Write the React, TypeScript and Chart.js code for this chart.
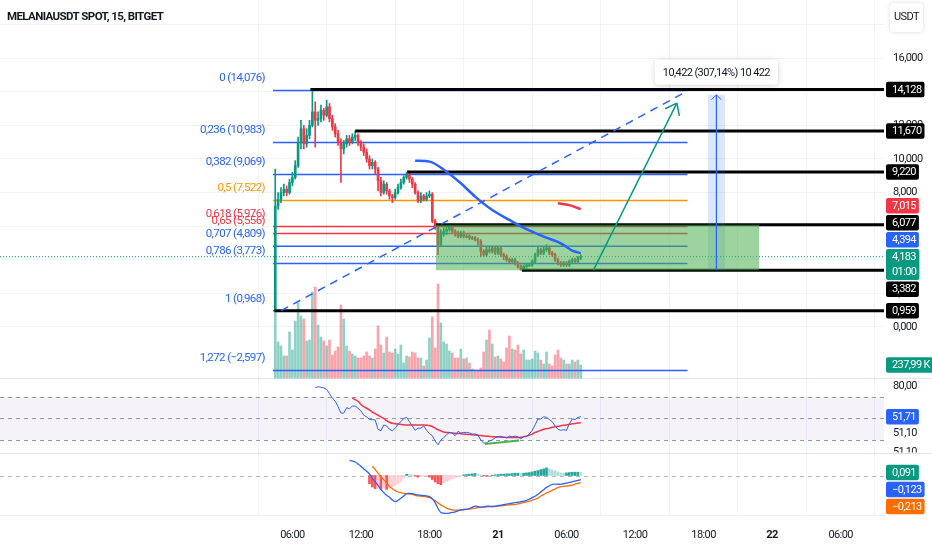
import React, { useEffect, useRef } from "react";
import { Chart, registerables } from "chart.js";

Chart.register(...registerables);

const FONT = "Roboto, sans-serif";
const LETTER_SPACING = "-0.6px";

// ---------------- data ----------------
const chartTitle = "MELANIAUSDT SPOT, 15, BITGET";
const currencyLabel = "USDT";
const countdownText = "01:00";

// 15-minute candles, hours counted from 20 Jan 00:00
const candleStartHour = 4.5;
const candleStepHour = 0.25;
const firstOpen = 0.968;
const closes = [
  7.2, 7.6, 8.0, 8.2, 8.0, 8.6, 8.9, 9.6, 11.0, 11.8,
  10.9, 11.4, 12.0, 12.8, 12.3, 12.4, 12.9, 12.6, 13.1, 12.4,
  11.9, 11.5, 11.0, 10.6, 10.9, 11.2, 11.0, 11.3, 11.4, 11.0,
  10.7, 10.4, 10.0, 9.6, 9.8, 9.4, 8.7, 8.0, 8.5, 8.1,
  7.8, 7.7, 8.0, 8.3, 8.6, 8.9, 9.1, 8.8, 8.5, 8.0,
  7.5, 7.8, 7.6, 7.8, 7.9, 6.3, 6.0, 4.9, 5.6, 5.7,
  5.8, 6.0, 5.7, 5.6, 5.4, 5.6, 5.4, 5.4, 5.3, 5.3,
  5.2, 5.1, 4.5, 4.3, 4.6, 4.5, 4.7, 4.4, 4.7, 4.3,
  4.2, 4.0, 3.9, 4.0, 3.8, 3.6, 3.4, 3.6, 3.7, 3.7,
  3.9, 4.3, 4.6, 4.4, 4.6, 4.7, 4.4, 4.3, 4.0, 3.8,
  3.7, 3.8, 3.7, 3.9, 4.0, 3.9, 4.1, 4.183,
];
const highs = [
  9.4, 8.0, 8.3, 8.5, 8.4, 8.8, 9.2, 9.9, 11.3, 12.3,
  12.0, 11.8, 12.3, 14.128, 13.4, 12.8, 13.2, 13.0, 13.5, 13.3,
  12.6, 12.1, 11.7, 11.2, 11.1, 11.4, 11.4, 11.5, 11.67, 11.5,
  11.1, 10.9, 10.6, 10.2, 10.0, 9.9, 9.5, 8.9, 8.7, 8.6,
  8.2, 7.9, 8.2, 8.5, 8.8, 9.0, 9.22, 9.2, 8.9, 8.6,
  8.1, 8.0, 7.9, 8.0, 8.1, 8.0, 6.4, 6.1, 5.8, 5.9,
  6.0, 6.077, 6.05, 5.8, 5.7, 5.7, 5.7, 5.5, 5.5, 5.4,
  5.4, 5.3, 5.2, 4.6, 4.8, 4.8, 4.8, 4.8, 4.8, 4.8,
  4.4, 4.3, 4.1, 4.1, 4.1, 3.9, 3.7, 3.7, 3.8, 3.8,
  4.0, 4.4, 4.8, 4.7, 4.8, 4.9, 4.8, 4.5, 4.4, 4.1,
  3.9, 3.9, 3.9, 4.0, 4.1, 4.1, 4.2, 4.3,
];
const lows = [
  0.95, 7.0, 7.4, 7.8, 7.8, 7.9, 8.4, 8.8, 9.5, 10.6,
  10.6, 10.7, 11.2, 11.9, 10.7, 12.0, 12.2, 12.3, 12.5, 12.2,
  11.7, 11.3, 10.8, 8.6, 10.3, 10.7, 10.8, 10.9, 11.1, 10.8,
  10.5, 10.2, 9.8, 9.4, 9.4, 9.1, 8.1, 7.8, 7.9, 7.9,
  7.6, 7.4, 7.6, 7.9, 8.2, 8.5, 8.8, 8.6, 8.3, 7.9,
  7.4, 7.4, 7.5, 7.5, 7.7, 6.2, 5.8, 4.3, 4.8, 5.4,
  5.5, 5.7, 5.6, 5.4, 5.3, 5.3, 5.3, 5.3, 5.2, 5.2,
  5.1, 4.9, 4.2, 4.2, 4.2, 4.4, 4.4, 4.3, 4.3, 4.2,
  4.0, 3.9, 3.8, 3.8, 3.7, 3.5, 3.382, 3.4, 3.5, 3.6,
  3.6, 3.8, 4.2, 4.3, 4.3, 4.5, 4.3, 4.2, 3.9, 3.7,
  3.6, 3.6, 3.6, 3.6, 3.8, 3.8, 3.8, 4.0,
];
const volumesK = [
  1208, 659, 586, 403, 403, 842, 512, 1043, 1373, 1135,
  1080, 677, 695, 1574, 1665, 970, 750, 677, 586, 695,
  421, 494, 567, 1336, 1080, 586, 494, 439, 403, 366,
  366, 403, 476, 403, 366, 531, 952, 604, 458, 750,
  476, 458, 531, 439, 604, 275, 403, 384, 476, 458,
  366, 366, 220, 329, 732, 1116, 549, 1720, 1007, 659,
  622, 494, 458, 366, 366, 531, 348, 366, 275, 165,
  146, 146, 183, 476, 695, 878, 622, 384, 403, 348,
  293, 549, 769, 531, 512, 604, 439, 512, 329, 329,
  348, 494, 458, 329, 256, 476, 256, 220, 421, 512,
  366, 329, 256, 256, 329, 293, 329, 237.99,
];
const N = null;
const rsiValues = [
  N, N, N, N, N, N, N, N, N, N, N, N, N, N,
  78.5, 79.5, 79, 78.5, 77, 73, 69, 66, 61, 55,
  55, 60, 59, 61.5, 61.5, 59.5, 57, 53, 51.5, 49,
  49, 48.5, 40, 38.5, 44, 43, 40, 38.5, 41, 44.5,
  47, 50, 51, 47, 43, 39, 41, 41, 43, 39,
  36, 34, 29, 25.5, 30, 32, 35, 37, 36.5, 34,
  38, 36.5, 37, 37, 36.5, 35.5, 35.5, 34.5, 30, 27,
  27.5, 29, 30, 32, 33, 33.5, 32.5, 32, 33.5, 33,
  33.5, 33, 31, 33, 33.5, 35.5, 39, 44, 49.5, 49.5,
  51.5, 51, 49, 47, 43, 40, 39, 39.5, 39, 45,
  49.5, 49, 51, 51.71,
];
const rsiMaValues = [
  N, N, N, N, N, N, N, N, N, N, N, N, N, N, N, N, N, N, N, N, N, N, N, N, N, N, N,
  69, 67.5, 66, 63, 61, 59.5, 58,
  56, 54.5, 53, 51.5, 50, 48, 46.5, 45.5, 45, 44.8,
  44.5, 44.2, 44, 44, 44, 44, 44, 44, 44, 43.8,
  43.5, 42.5, 41, 39.5, 38.5, 37.5, 37, 36.8, 36.5, 36.2,
  36, 35.8, 35.5, 35.3, 35, 34.8, 34.6, 34.4, 34.1, 33.8,
  33.5, 33.3, 33.1, 33, 32.8, 32.6, 32.5, 32.4, 32.3, 32.2,
  32.2, 32.2, 32.5, 33, 33.5, 34.5, 35.5, 37, 38, 39,
  40, 40.5, 41, 41.8, 42.3, 42.8, 43.2, 43.6, 44, 44.5,
  45, 45.3, 45.7, 46,
];
const macdValues = [
  N, N, N, N, N, N, N, N, N, N, N, N, N, N, N, N, N, N, N, N, N, N, N, N, N, N,
  0.46, 0.44, 0.41, 0.35, 0.28, 0.2, 0.13, 0.05,
  -0.09, -0.19, -0.3, -0.42, -0.52, -0.6, -0.66, -0.74, -0.79, -0.75,
  -0.69, -0.62, -0.55, -0.54, -0.55, -0.57, -0.59, -0.6, -0.61, -0.62,
  -0.64, -0.7, -0.82, -1.0, -1.12, -1.14, -1.15, -1.14, -1.12, -1.1,
  -1.07, -1.04, -1.03, -1.02, -1.0, -0.96, -0.93, -0.94, -0.96, -0.95,
  -0.93, -0.93, -0.94, -0.93, -0.91, -0.9, -0.88, -0.87, -0.85, -0.84,
  -0.82, -0.81, -0.8, -0.78, -0.75, -0.72, -0.67, -0.63, -0.57, -0.5,
  -0.43, -0.36, -0.31, -0.27, -0.26, -0.26, -0.27, -0.25, -0.23, -0.21,
  -0.19, -0.17, -0.15, -0.123,
];
const signalValues = [
  N, N, N, N, N, N, N, N, N, N, N, N, N, N, N, N, N, N, N, N, N, N, N, N, N, N, N, N, N, N, N, N, N, N,
  0.28, 0.18, 0.07, -0.03, -0.13, -0.23, -0.33, -0.4, -0.46, -0.5,
  -0.52, -0.54, -0.55, -0.56, -0.57, -0.6, -0.62, -0.63, -0.64, -0.65,
  -0.67, -0.72, -0.76, -0.83, -0.89, -0.94, -0.99, -1.02, -1.04, -1.05,
  -1.05, -1.05, -1.04, -1.03, -1.02, -1.0, -0.99, -0.97, -0.96, -0.96,
  -0.95, -0.95, -0.94, -0.94, -0.93, -0.92, -0.91, -0.9, -0.89, -0.88,
  -0.88, -0.86, -0.84, -0.82, -0.8, -0.78, -0.75, -0.72, -0.68, -0.62,
  -0.58, -0.53, -0.49, -0.45, -0.41, -0.37, -0.34, -0.33, -0.32, -0.31,
  -0.29, -0.26, -0.24, -0.213,
];
const histValues = [
  N, N, N, N, N, N, N, N, N, N, N, N, N, N, N, N, N, N, N, N, N, N, N, N, N, N, N, N, N, N, N, N, N,
  -0.25,
  -0.35, -0.4, -0.38, -0.42, -0.38, -0.42, -0.38, -0.34, -0.3, -0.25,
  -0.18, -0.08, 0.04, 0.03, 0.02, -0.02, -0.05, -0.03, -0.02, -0.02,
  -0.05, -0.12, -0.2, -0.25, -0.28, -0.22, -0.18, -0.14, -0.1, -0.07,
  -0.04, -0.02, 0.02, 0.03, 0.04, 0.05, 0.06, 0.05, 0.02, -0.01,
  -0.03, -0.01, 0.01, 0.02, 0.03, 0.04, 0.04, 0.05, 0.05, 0.06,
  0.07, 0.07, 0.06, 0.07, 0.08, 0.09, 0.11, 0.13, 0.15, 0.18,
  0.2, 0.23, 0.2, 0.17, 0.14, 0.11, 0.08, 0.07, 0.08, 0.09,
  0.1, 0.1, 0.1, 0.091,
];

// time axis
const timeTicks = [6, 12, 18, 24, 30, 36, 42, 48, 54];
const timeTickLabels = ["06:00", "12:00", "18:00", "21", "06:00", "12:00", "18:00", "22", "06:00"];
const boldTimeLabels = ["21", "22"];

// fibonacci retracement
const fibLevels = [0, 0.236, 0.382, 0.5, 0.618, 0.65, 0.707, 0.786, 1, 1.272];
const fibPrices = [14.076, 10.983, 9.069, 7.522, 5.976, 5.556, 4.809, 3.773, 0.968, -2.597];
const fibColors = ["#2962ff", "#2962ff", "#2962ff", "#ff9800", "#f23645", "#f23645", "#2962ff", "#2962ff", "#2962ff", "#2962ff"];
const fibHours = [4.3, 40.6];

// horizontal rays (black)
const rayPrices = [14.128, 11.67, 9.22, 6.077, 3.382, 0.959];
const rayStartHours = [7.58, 11.5, 16.05, 18.57, 26.1, 4.43];

// green zone
const zoneHours = [18.57, 46.86];
const zonePrices = [3.382, 6.077];

// moving averages on price (candle index, value)
const blueMaIndex = [49, 54, 60, 65, 70, 76, 82, 88, 94, 100, 104, 107];
const blueMaValues = [9.9, 9.84, 9.24, 8.55, 7.76, 6.96, 6.37, 5.82, 5.38, 4.98, 4.55, 4.394];
const redMaIndex = [99, 103, 107];
const redMaValues = [7.36, 7.25, 7.015];

// drawings
const trendHours = [5.0, 40.2];
const trendPrices = [0.968, 13.9];
const arrowHours = [32.36, 39.66];
const arrowPrices = [3.382, 13.32];
const measureHours = [42.37, 43.88];
const measurePrices = [3.393, 13.815];
const measureText = "10,422 (307,14%) 10 422";
const divergenceIndex = [73.4, 85.4];
const divergenceValues = [26.3, 29.4];

// RSI pane
const rsiLevels = [70, 50, 30];
const rsiAxisValues = [80, 36, 19];
const rsiAxisTexts = ["80,00", "51,10", "51,10"];

// axis ranges (values at the top / bottom edge of the drawing area)
const xRange = [-19.6, 57.8];
const priceRange = [-11.19, 19.46];
const priceTickValues = [0, 2, 4, 6, 8, 10, 12, 14, 16, 18];
const volRange = [-2507, 6917];
const rsiRange = [-39.8, 439.3];
const macdRange = [-1.197, 14.41];
const paneSeparators = [378.5, 453.5];

// ---------------- helpers ----------------
const UP = "#089981";
const DOWN = "#f23645";
const BLUE = "#2962ff";

const hourOf = (i: number) => candleStartHour + i * candleStepHour;
const fmt = (v: number, d: number) => v.toFixed(d).replace(".", ",").replace("-", "\u2212");
const timeLabelAt = (v: number) => {
  const k = timeTicks.indexOf(v);
  return k >= 0 ? timeTickLabels[k] : "";
};

type Box = { y: number; lines: string[]; bg: string; fixed?: boolean };
const LINE_H = 15.5;
const GAP = 1.5;

function layoutBoxes(items: Box[]) {
  const tops = new Map<Box, number>();
  const h = (b: Box) => b.lines.length * LINE_H;
  const fixed = items.find((b) => b.fixed) || items[0];
  const fixedTop = fixed.y - LINE_H / 2;
  tops.set(fixed, fixedTop);
  let limit = fixedTop - GAP;
  items
    .filter((b) => b !== fixed && b.y <= fixed.y)
    .sort((a, b) => b.y - a.y)
    .forEach((b) => {
      const top = Math.min(b.y - LINE_H / 2, limit - h(b));
      tops.set(b, top);
      limit = top - GAP;
    });
  limit = fixedTop + h(fixed) + GAP;
  items
    .filter((b) => b !== fixed && b.y > fixed.y)
    .sort((a, b) => a.y - b.y)
    .forEach((b) => {
      const top = Math.max(b.y - LINE_H / 2, limit);
      tops.set(b, top);
      limit = top + h(b) + GAP;
    });
  return tops;
}

function drawBoxes(ctx: CanvasRenderingContext2D, items: Box[], x: number) {
  const tops = layoutBoxes(items);
  ctx.font = `11px ${FONT}`;
  ctx.textBaseline = "middle";
  ctx.textAlign = "left";
  items.forEach((b) => {
    const top = tops.get(b)!;
    const w = Math.max(...b.lines.map((t) => ctx.measureText(t).width)) + 9;
    ctx.fillStyle = b.bg;
    ctx.beginPath();
    ctx.roundRect(x, top, w, b.lines.length * LINE_H, 2);
    ctx.fill();
    ctx.fillStyle = "#ffffff";
    b.lines.forEach((t, k) => ctx.fillText(t, x + 6, top + LINE_H * (k + 0.5) + 0.5));
  });
}

function arrowHead(ctx: CanvasRenderingContext2D, x0: number, y0: number, x1: number, y1: number, len: number, deg: number) {
  const ang = Math.atan2(y1 - y0, x1 - x0);
  ctx.beginPath();
  [-1, 1].forEach((s) => {
    const a = ang + Math.PI + (s * deg * Math.PI) / 180;
    ctx.moveTo(x1, y1);
    ctx.lineTo(x1 + len * Math.cos(a), y1 + len * Math.sin(a));
  });
  ctx.stroke();
}

const overlayPlugin = {
  id: "tvOverlay",
  beforeDraw(chart: any) {
    (chart.ctx as any).letterSpacing = LETTER_SPACING;
  },
  beforeDatasetsDraw(chart: any) {
    const { ctx, chartArea: a, scales } = chart;
    const r = scales.yRsi;
    const m = scales.yMacd;
    ctx.save();
    const yTop = r.getPixelForValue(rsiLevels[0]);
    const yBot = r.getPixelForValue(rsiLevels[rsiLevels.length - 1]);
    ctx.fillStyle = "rgba(126,87,194,0.08)";
    ctx.fillRect(a.left, yTop, a.right - a.left, yBot - yTop);
    ctx.setLineDash([4, 4]);
    ctx.strokeStyle = "#9598a1";
    ctx.lineWidth = 1;
    rsiLevels.forEach((v) => {
      const y = Math.round(r.getPixelForValue(v)) + 0.5;
      ctx.beginPath();
      ctx.moveTo(a.left, y);
      ctx.lineTo(a.right, y);
      ctx.stroke();
    });
    const y0 = Math.round(m.getPixelForValue(0)) + 0.5;
    ctx.strokeStyle = "#b2b5be";
    ctx.beginPath();
    ctx.moveTo(a.left, y0);
    ctx.lineTo(a.right, y0);
    ctx.stroke();
    ctx.setLineDash([]);
    ctx.strokeStyle = "#e0e3eb";
    paneSeparators.forEach((y) => {
      ctx.beginPath();
      ctx.moveTo(0, y);
      ctx.lineTo(chart.width, y);
      ctx.stroke();
    });
    ctx.restore();
  },
  afterDatasetsDraw(chart: any) {
    const { ctx, scales } = chart;
    const x = scales.x;
    const y = scales.y;
    ctx.save();
    // green arrow head
    ctx.strokeStyle = UP;
    ctx.lineWidth = 1.5;
    arrowHead(
      ctx,
      x.getPixelForValue(arrowHours[0]), y.getPixelForValue(arrowPrices[0]),
      x.getPixelForValue(arrowHours[1]), y.getPixelForValue(arrowPrices[1]),
      13, 38
    );
    // measure arrow head
    const mx = x.getPixelForValue((measureHours[0] + measureHours[1]) / 2);
    const mTop = y.getPixelForValue(measurePrices[1]);
    ctx.strokeStyle = BLUE;
    ctx.lineWidth = 1;
    arrowHead(ctx, mx, y.getPixelForValue(measurePrices[0]), mx, mTop, 7, 45);
    // measure label
    ctx.font = `11px ${FONT}`;
    const tw = ctx.measureText(measureText).width;
    const bw = tw + 16;
    const bh = 25;
    const by = mTop - 35;
    ctx.save();
    ctx.shadowColor = "rgba(0,0,0,0.18)";
    ctx.shadowBlur = 6;
    ctx.shadowOffsetY = 1;
    ctx.fillStyle = "#ffffff";
    ctx.beginPath();
    ctx.roundRect(mx - bw / 2, by, bw, bh, 4);
    ctx.fill();
    ctx.restore();
    ctx.fillStyle = "#131722";
    ctx.textAlign = "center";
    ctx.textBaseline = "middle";
    ctx.fillText(measureText, mx, by + bh / 2 + 0.5);
    // fib labels
    ctx.font = `11.5px ${FONT}`;
    ctx.textAlign = "right";
    const lx = x.getPixelForValue(fibHours[0]) - 8;
    fibLevels.forEach((lvl, k) => {
      ctx.fillStyle = fibColors[k];
      const decimals = Number.isInteger(lvl) ? 0 : String(lvl).split(".")[1].length;
      ctx.fillText(`${fmt(lvl, decimals)} (${fmt(fibPrices[k], 3)})`, lx, y.getPixelForValue(fibPrices[k]) - 12);
    });
    ctx.restore();
  },
  afterDraw(chart: any) {
    const { ctx, scales, chartArea: a } = chart;
    const bx = a.right + 2;
    ctx.save();
    const last = closes.length - 1;
    drawBoxes(ctx, [
      ...rayPrices.map((p) => ({ y: scales.y.getPixelForValue(p), lines: [fmt(p, 3)], bg: "#000000" })),
      { y: scales.y.getPixelForValue(redMaValues[redMaValues.length - 1]), lines: [fmt(redMaValues[redMaValues.length - 1], 3)], bg: DOWN },
      { y: scales.y.getPixelForValue(blueMaValues[blueMaValues.length - 1]), lines: [fmt(blueMaValues[blueMaValues.length - 1], 3)], bg: BLUE },
      { y: scales.y.getPixelForValue(closes[last]), lines: [fmt(closes[last], 3), countdownText], bg: UP, fixed: true },
    ], bx);
    drawBoxes(ctx, [{ y: scales.yVol.getPixelForValue(volumesK[last]), lines: [fmt(volumesK[last], 2) + " K"], bg: UP }], bx);
    // RSI axis texts (clipped to pane)
    ctx.save();
    ctx.beginPath();
    ctx.rect(a.right, paneSeparators[0], chart.width - a.right, paneSeparators[1] - paneSeparators[0] - 1);
    ctx.clip();
    ctx.font = `11px ${FONT}`;
    ctx.fillStyle = "#131722";
    ctx.textAlign = "left";
    ctx.textBaseline = "middle";
    rsiAxisValues.forEach((v, k) => ctx.fillText(rsiAxisTexts[k], a.right + 9, scales.yRsi.getPixelForValue(v)));
    drawBoxes(ctx, [{ y: scales.yRsi.getPixelForValue(rsiValues[last] as number), lines: [fmt(rsiValues[last] as number, 2)], bg: BLUE }], bx);
    ctx.restore();
    drawBoxes(ctx, [
      { y: scales.yMacd.getPixelForValue(histValues[last] as number), lines: [fmt(histValues[last] as number, 3)], bg: UP, fixed: true },
      { y: scales.yMacd.getPixelForValue(macdValues[last] as number), lines: [fmt(macdValues[last] as number, 3)], bg: BLUE },
      { y: scales.yMacd.getPixelForValue(signalValues[last] as number), lines: [fmt(signalValues[last] as number, 3)], bg: "#ff6d00" },
    ], bx);
    // title
    ctx.font = `bold 11.5px ${FONT}`;
    ctx.fillStyle = "#131722";
    ctx.textAlign = "left";
    ctx.textBaseline = "middle";
    ctx.fillText(chartTitle, 7, 17.5);
    // currency box
    ctx.save();
    ctx.shadowColor = "rgba(0,0,0,0.15)";
    ctx.shadowBlur = 4;
    ctx.fillStyle = "#ffffff";
    ctx.beginPath();
    ctx.roundRect(890, 3, 33, 29, 4);
    ctx.fill();
    ctx.restore();
    ctx.fillStyle = "#131722";
    ctx.font = `11px ${FONT}`;
    ctx.textAlign = "center";
    ctx.fillText(currencyLabel, 906.5, 17.5);
    ctx.restore();
  },
};

function seriesPoints(values: (number | null)[]) {
  return values
    .map((v, i) => (v == null ? null : { x: hourOf(i), y: v }))
    .filter((p) => p !== null) as { x: number; y: number }[];
}

function buildConfig(): any {
  const opens = closes.map((_, i) => (i === 0 ? firstOpen : closes[i - 1]));
  const up = closes.map((c, i) => c >= opens[i]);
  const candleColors = up.map((u) => (u ? UP : DOWN));
  const volColors = up.map((u) => (u ? "rgba(8,153,129,0.45)" : "rgba(242,54,69,0.45)"));
  const histPts = seriesPoints(histValues);
  const histColors = histPts.map((p, k) => {
    const prev = k > 0 ? histPts[k - 1].y : 0;
    return p.y >= 0 ? (p.y >= prev ? "#26a69a" : "#b2dfdb") : p.y < prev ? "#ff5252" : "#ffcdd2";
  });
  const line = (extra: any) => ({ type: "line", pointRadius: 0, borderWidth: 1.5, fill: false, xAxisID: "x", yAxisID: "y", ...extra });
  const mid = (measureHours[0] + measureHours[1]) / 2;
  const last = closes.length - 1;

  const datasets: any[] = [
    line({ order: 0, borderColor: UP, data: arrowHours.map((h, k) => ({ x: h, y: arrowPrices[k] })) }),
    line({ order: 1, borderColor: BLUE, borderDash: [8, 6], data: trendHours.map((h, k) => ({ x: h, y: trendPrices[k] })) }),
    line({ order: 1, borderColor: BLUE, borderWidth: 1.2, data: measurePrices.map((p) => ({ x: mid, y: p })) }),
    line({ order: 2, borderColor: BLUE, borderWidth: 2.5, tension: 0.4, cubicInterpolationMode: "monotone", data: blueMaIndex.map((i, k) => ({ x: hourOf(i), y: blueMaValues[k] })) }),
    line({ order: 2, borderColor: DOWN, borderWidth: 2.5, tension: 0.4, data: redMaIndex.map((i, k) => ({ x: hourOf(i), y: redMaValues[k] })) }),
    line({ order: 3, borderWidth: 0, borderColor: "rgba(0,0,0,0)", fill: { value: zonePrices[0] }, backgroundColor: "rgba(76,175,80,0.55)", data: zoneHours.map((h) => ({ x: h, y: zonePrices[1] })) }),
    line({ order: 3, borderWidth: 0, borderColor: "rgba(0,0,0,0)", fill: { value: measurePrices[0] }, backgroundColor: "rgba(41,98,255,0.16)", data: measureHours.map((h) => ({ x: h, y: measurePrices[1] })) }),
    ...rayPrices.map((p, k) => line({ order: 4, borderColor: "#000000", borderWidth: 3, data: [{ x: rayStartHours[k], y: p }, { x: xRange[1], y: p }] })),
    {
      type: "bar", order: 5, grouped: false, barThickness: 2, minBarLength: 1, xAxisID: "x", yAxisID: "y",
      backgroundColor: candleColors,
      data: closes.map((c, i) => ({ x: hourOf(i), y: [opens[i], c] })),
    },
    {
      type: "bar", order: 6, grouped: false, barThickness: 1, xAxisID: "x", yAxisID: "y",
      backgroundColor: candleColors,
      data: closes.map((_, i) => ({ x: hourOf(i), y: [lows[i], highs[i]] })),
    },
    ...fibPrices.map((p, k) => line({ order: 7, borderColor: fibColors[k], borderWidth: 1.5, data: fibHours.map((h) => ({ x: h, y: p })) })),
    {
      type: "bar", order: 8, grouped: false, barThickness: 2, xAxisID: "x", yAxisID: "yVol",
      backgroundColor: volColors,
      data: volumesK.map((v, i) => ({ x: hourOf(i), y: v })),
    },
    line({ order: 9, borderColor: UP, borderWidth: 1, borderDash: [1, 2], data: xRange.map((h) => ({ x: h, y: closes[last] })) }),
    // RSI
    line({ order: 2, yAxisID: "yRsi", borderColor: DOWN, borderWidth: 1.5, tension: 0.3, data: seriesPoints(rsiMaValues) }),
    line({ order: 1, yAxisID: "yRsi", borderColor: BLUE, borderWidth: 1, data: seriesPoints(rsiValues) }),
    line({ order: 0, yAxisID: "yRsi", borderColor: "#4caf50", borderWidth: 2, data: divergenceIndex.map((i, k) => ({ x: hourOf(i), y: divergenceValues[k] })) }),
    // MACD
    {
      type: "bar", order: 3, grouped: false, barThickness: 2, xAxisID: "x", yAxisID: "yMacd",
      backgroundColor: histColors, data: histPts,
    },
    line({ order: 1, yAxisID: "yMacd", borderColor: BLUE, borderWidth: 1.3, tension: 0.3, data: seriesPoints(macdValues) }),
    line({ order: 2, yAxisID: "yMacd", borderColor: "#ff6d00", borderWidth: 1.3, tension: 0.3, data: seriesPoints(signalValues) }),
  ];

  return {
    type: "line",
    data: { datasets },
    plugins: [overlayPlugin],
    options: {
      animation: false,
      responsive: false,
      events: [],
      layout: { padding: 0 },
      plugins: { legend: { display: false }, tooltip: { enabled: false }, title: { display: false } },
      scales: {
        x: {
          type: "linear", min: xRange[0], max: xRange[1], offset: false, position: "bottom",
          grid: { color: "#f0f3fa", drawTicks: false },
          border: { display: true, color: "#eceef3" },
          afterBuildTicks: (s: any) => { s.ticks = timeTicks.map((v) => ({ value: v })); },
          afterFit: (s: any) => { s.height = 35; s.paddingLeft = 0; s.paddingRight = 0; },
          ticks: {
            autoSkip: false, maxRotation: 0, padding: 14, color: "#131722",
            callback: (v: any) => timeLabelAt(v),
            font: (c: any) => ({ family: FONT, size: 11, weight: boldTimeLabels.includes(timeLabelAt(c.tick ? c.tick.value : NaN)) ? "bold" : "normal" }),
          },
        },
        y: {
          type: "linear", position: "right", min: priceRange[0], max: priceRange[1],
          grid: { color: "#f0f3fa", drawTicks: false },
          border: { display: false },
          afterBuildTicks: (s: any) => { s.ticks = priceTickValues.map((v) => ({ value: v })); },
          afterFit: (s: any) => { s.width = 48; s.paddingTop = 0; s.paddingBottom = 0; },
          ticks: { autoSkip: false, padding: 9, color: "#131722", font: { family: FONT, size: 11 }, callback: (v: any) => fmt(v, 3) },
        },
        yVol: { type: "linear", display: false, min: volRange[0], max: volRange[1] },
        yRsi: { type: "linear", display: false, min: rsiRange[0], max: rsiRange[1] },
        yMacd: { type: "linear", display: false, min: macdRange[0], max: macdRange[1] },
      },
    },
  };
}

export default function App() {
  const ref = useRef<HTMLCanvasElement>(null);
  useEffect(() => {
    if (!ref.current) return;
    const chart = new Chart(ref.current, buildConfig());
    return () => chart.destroy();
  }, []);
  return (
    <div style={{ position: "fixed", left: 0, top: 0, width: 932, height: 550, background: "#ffffff" }}>
      <canvas ref={ref} width={932} height={550} style={{ display: "block", width: 932, height: 550 }} />
    </div>
  );
}
